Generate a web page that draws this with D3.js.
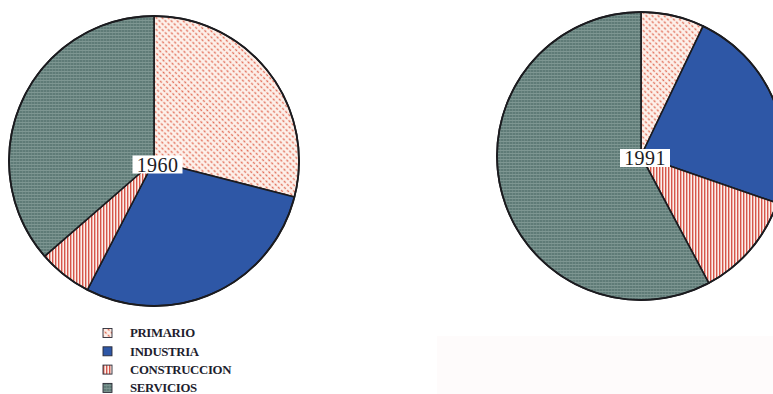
<!DOCTYPE html>
<html>
<head>
<meta charset="utf-8">
<script src="https://cdn.jsdelivr.net/npm/d3@7/dist/d3.min.js"></script>
<style>
  html, body { margin: 0; padding: 0; background: #ffffff; }
  svg { display: block; }
</style>
</head>
<body>
<svg id="chart" width="773" height="394"></svg>
<script>
// ---- data ----
const categories = ["PRIMARIO", "INDUSTRIA", "CONSTRUCCION", "SERVICIOS"];
const years = ["1960", "1991"];
const values1960 = [29.0, 28.6, 6.0, 36.4];
const values1991 = [7.1, 23.2, 11.9, 57.8];

// ---- layout ----
const W = 773, H = 394;
const svg = d3.select("#chart");
const defs = svg.append("defs");

// faint off-white panel at bottom right
svg.append("rect").attr("x", 437).attr("y", 336).attr("width", W - 437).attr("height", H - 336)
  .attr("fill", "#fefbfb");

// patterns
const pPrim = defs.append("pattern").attr("id", "pat-prim").attr("patternUnits", "userSpaceOnUse")
  .attr("width", 4.4).attr("height", 4.2).attr("patternTransform", "rotate(45)");
pPrim.append("rect").attr("width", 4.4).attr("height", 4.2).attr("fill", "#fdf1eb");
pPrim.append("rect").attr("x", 0.4).attr("y", 1.4).attr("width", 2.5).attr("height", 1.4).attr("fill", "#e3735e");

const pCons = defs.append("pattern").attr("id", "pat-cons").attr("patternUnits", "userSpaceOnUse")
  .attr("width", 3).attr("height", 3);
pCons.append("rect").attr("width", 3).attr("height", 3).attr("fill", "#fcefeb");
pCons.append("rect").attr("width", 1.4).attr("height", 3).attr("fill", "#d6564a");

const pServ = defs.append("pattern").attr("id", "pat-serv").attr("patternUnits", "userSpaceOnUse")
  .attr("width", 3).attr("height", 3);
pServ.append("rect").attr("width", 3).attr("height", 3).attr("fill", "#5f7b77");
pServ.append("rect").attr("width", 3).attr("height", 1).attr("fill", "#8ca39f").attr("opacity", 0.7);
pServ.append("rect").attr("width", 1).attr("height", 3).attr("fill", "#7d9591").attr("opacity", 0.5);

const fills = ["url(#pat-prim)", "#2e57a6", "url(#pat-cons)", "url(#pat-serv)"];
const color = d3.scaleOrdinal().domain(categories).range(fills);

const pies = [
  { year: years[0], values: values1960, cx: 154, cy: 161, r: 145, lx: 157.5, ly: 164.5 },
  { year: years[1], values: values1991, cx: 641, cy: 156, r: 144, lx: 645, ly: 158 }
];

const pie = d3.pie().sort(null).value(d => d.v);

pies.forEach(p => {
  const g = svg.append("g").attr("transform", `translate(${p.cx},${p.cy})`);
  const arc = d3.arc().innerRadius(0).outerRadius(p.r);
  const data = pie(categories.map((c, i) => ({ c, v: p.values[i] })));
  g.selectAll("path.slice").data(data).enter().append("path")
    .attr("class", "slice")
    .attr("d", arc)
    .attr("fill", d => color(d.data.c))
    .attr("stroke", "#1b1b1f").attr("stroke-width", 1.6).attr("stroke-linejoin", "round");
  g.append("circle").attr("r", p.r).attr("fill", "none").attr("stroke", "#1b1b1f").attr("stroke-width", 1.8);

  const lg = svg.append("g").attr("transform", `translate(${p.lx},${p.ly})`);
  lg.append("rect").attr("x", -25).attr("y", -9).attr("width", 50).attr("height", 18).attr("fill", "#ffffff");
  lg.append("text").attr("text-anchor", "middle").attr("dy", "0.36em")
    .attr("font-family", "'Liberation Serif', 'DejaVu Serif', serif").attr("font-size", 20)
    .attr("letter-spacing", 0.4)
    .attr("fill", "#1c1c24").text(p.year);
});

// legend
const legend = svg.append("g").attr("transform", "translate(103,333)");
const rowH = 18.3;
const items = legend.selectAll("g").data(categories).enter().append("g")
  .attr("transform", (d, i) => `translate(0,${i * rowH})`);
items.append("rect").attr("x", 0).attr("y", -4.5).attr("width", 9).attr("height", 9)
  .attr("fill", d => color(d)).attr("stroke", "#2a2a35").attr("stroke-width", 0.9);
items.append("text").attr("x", 27).attr("dy", "0.35em")
  .attr("font-family", "'Liberation Serif', 'DejaVu Serif', serif").attr("font-weight", "bold")
  .attr("font-size", 12.8).attr("letter-spacing", -0.35).attr("fill", "#1e1e2e").text(d => d);
</script>
</body>
</html>
